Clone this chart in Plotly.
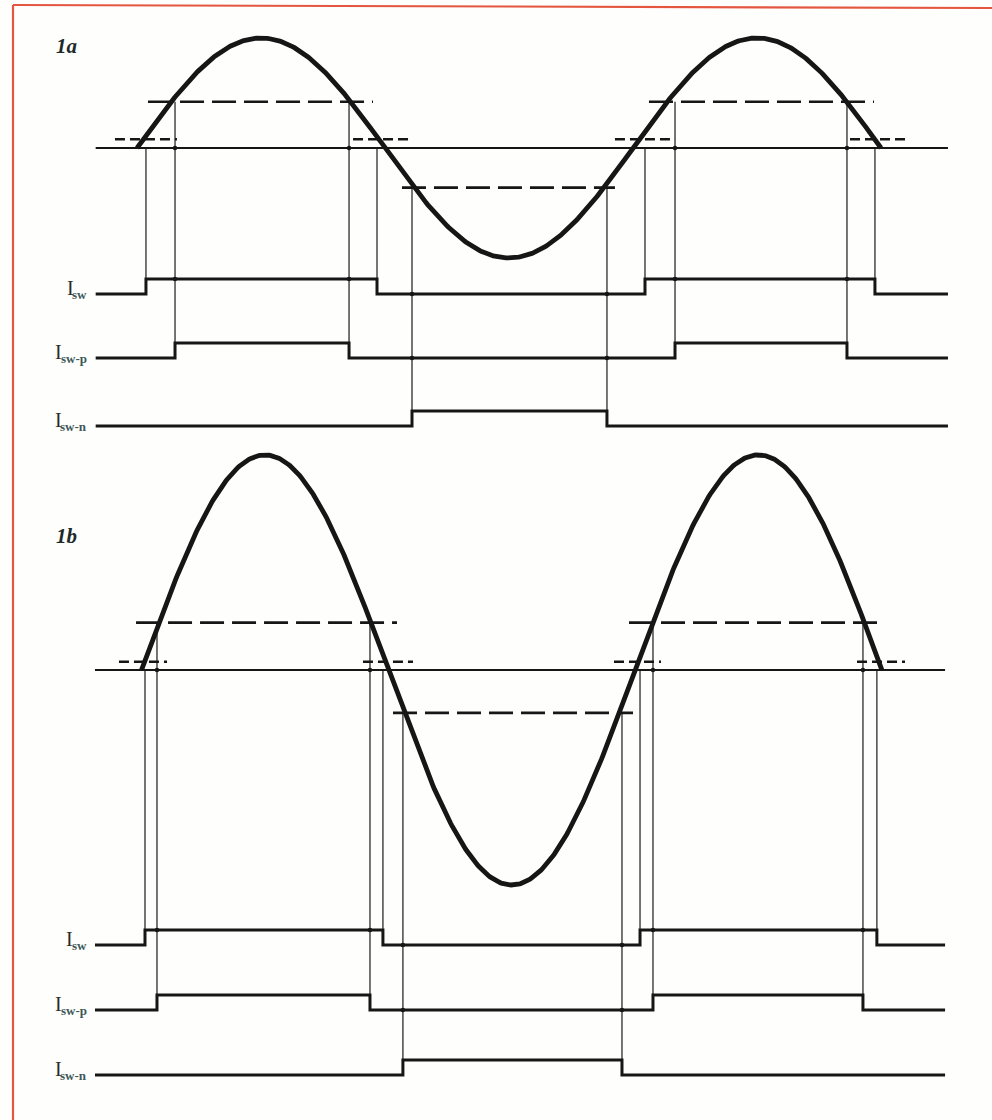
import numpy as np
import plotly.graph_objects as go

# ---------------------------------------------------------------
# Waveform data.  Time runs in electrical degrees of the 1a sweep,
# signal levels are in units of the 1a peak amplitude.
# ---------------------------------------------------------------
panel_names = ["1a", "1b"]
sine_amp = [1.0, 1.955]
sine_lag = [0.0, 3.3]          # degrees
sine_period = [360.0, 358.2]   # degrees
sine_cycles = [1.5, 1.5]

thr_small = [0.08, 0.075]      # switch threshold just above zero
thr_high = [0.42, 0.43]        # positive-pulse threshold
thr_neg = [-0.36, -0.39]       # negative-pulse threshold

# comparator switching instants, alternately on / off (degrees)
isw_edges = [[6.5, 174.2, 368.7, 535.6], [5.8, 178.5, 365.1, 537.0]]
iswp_edges = [[27.6, 153.9, 390.5, 515.3], [14.5, 169.1, 374.5, 526.9]]
iswn_edges = [[199.6, 341.1], [193.0, 352.0]]

# extent of the threshold marks drawn across each crossing (degrees)
small_marks = [[(-16.0, 29.0), (156.8, 199.6), (346.9, 390.5), (517.5, 557.4)],
               [(-13.1, 21.8), (164.0, 200.3), (346.2, 380.3), (522.6, 557.4)]]
high_marks = [[(8.0, 171.3), (371.6, 534.9)],
              [(-0.7, 188.7), (357.1, 542.9)]]
neg_marks = [[(192.3, 346.9)], [(185.8, 360.0)]]

row_symbol = "I"
row_subscripts = ["sw", "sw-p", "sw-n"]

# ---------------------------------------------------------------
# Layout constants
# ---------------------------------------------------------------
W, H = 992, 1120
PX_PER_DEG = 496.0 / 360.0
X_ZERO_PX = 137.0
PX_PER_UNIT = 110.0
Y_ZERO_PX = 148.0

panel_base = [0.0, -4.745]
panel_title_y = [0.927, 1.218]
row_offset = [[-1.327, -1.909, -2.527], [-2.50, -3.091, -3.682]]
STEP = 0.136
line_start = [-30.0, -30.5]
line_end = [588.6, 586.5]

INK = "#161616"
THIN = "#3a3a3a"
SUB_COLOR = "#3d5858"
LABEL_FONT = "Liberation Serif"
SUB_SIZE = 13
# advance widths (em) of the bold serif glyphs used in the subscripts
SUB_ADVANCE = {"s": 0.389, "w": 0.722, "-": 0.333, "p": 0.556, "n": 0.556}

x_range = [-X_ZERO_PX / PX_PER_DEG, (W - X_ZERO_PX) / PX_PER_DEG]
y_range = [(Y_ZERO_PX - H) / PX_PER_UNIT, Y_ZERO_PX / PX_PER_UNIT]


def state_at(t, edges):
    return sum(1 for e in edges if e <= t) % 2


def step_trace(edges, x0, x1, low):
    xs, ys = [x0], [low]
    level = low
    for e in edges:
        xs.append(e)
        ys.append(level)
        level = low + STEP if level == low else low
        xs.append(e)
        ys.append(level)
    xs.append(x1)
    ys.append(level)
    return xs, ys


def segments(pairs, y):
    xs, ys = [], []
    for a, b in pairs:
        xs += [a, b, None]
        ys += [y, y, None]
    return xs, ys


fig = go.Figure()

vert_x, vert_y = [], []
dot_x, dot_y = [], []
base_x, base_y = [], []
dig_x, dig_y = [], []
sine_x, sine_y = [], []
small_x, small_y = [], []
long_x, long_y = [], []
annotations = []

for p in range(2):
    base = panel_base[p]
    rows = [base + r for r in row_offset[p]]
    edges_all = [isw_edges[p], iswp_edges[p], iswn_edges[p]]

    # zero line
    base_x += [line_start[p], line_end[p], None]
    base_y += [base, base, None]

    # the input sine
    t = np.linspace(sine_lag[p], sine_lag[p] + sine_cycles[p] * sine_period[p], 600)
    s = base + sine_amp[p] * np.sin(2 * np.pi * (t - sine_lag[p]) / sine_period[p])
    sine_x += list(t) + [None]
    sine_y += list(s) + [None]

    # threshold marks
    xs, ys = segments(small_marks[p], base + thr_small[p])
    small_x += xs
    small_y += ys
    xs, ys = segments(high_marks[p], base + thr_high[p])
    long_x += xs
    long_y += ys
    xs, ys = segments(neg_marks[p], base + thr_neg[p])
    long_x += xs
    long_y += ys

    # comparator outputs and their labels
    for r in range(3):
        xs, ys = step_trace(edges_all[r], line_start[p], line_end[p], rows[r])
        dig_x += xs + [None]
        dig_y += ys + [None]
        sub = row_subscripts[r]
        sub_w = SUB_SIZE * sum(SUB_ADVANCE[c] for c in sub)
        annotations.append(dict(
            x=line_start[p] - 4.5, y=rows[r], xref="x", yref="y",
            text="<b>%s</b>" % sub, showarrow=False,
            xanchor="right", yanchor="middle", yshift=-1,
            font=dict(family=LABEL_FONT, size=SUB_SIZE, color=SUB_COLOR),
        ))
        annotations.append(dict(
            x=line_start[p] - 4.5, y=rows[r], xref="x", yref="y",
            text=row_symbol, showarrow=False,
            xanchor="right", yanchor="middle", yshift=6, xshift=-sub_w + 1,
            font=dict(family=LABEL_FONT, size=20, color="#2a2a2a"),
        ))

    # projection lines from each threshold crossing down to its output edge
    tops = [base, base + thr_high[p], base + thr_neg[p]]
    for r in range(3):
        for e in edges_all[r]:
            top = tops[r]
            bottom = rows[r] + STEP
            vert_x += [e, e, None]
            vert_y += [top, bottom, None]
            # junction dots where the projection crosses other lines
            crossings = [base] + [rows[k] + STEP * state_at(e, edges_all[k]) for k in range(r)]
            for c in crossings:
                if bottom < c < top - 1e-6:
                    dot_x.append(e)
                    dot_y.append(c)

    annotations.append(dict(
        x=-51, y=base + panel_title_y[p], xref="x", yref="y",
        text="<i><b>%s</b></i>" % panel_names[p], showarrow=False,
        xanchor="center", yanchor="middle",
        font=dict(family=LABEL_FONT, size=21, color="#1c2a2a"),
    ))

fig.add_trace(go.Scatter(x=vert_x, y=vert_y, mode="lines",
                         line=dict(color=THIN, width=1.4), hoverinfo="skip"))
fig.add_trace(go.Scatter(x=base_x, y=base_y, mode="lines",
                         line=dict(color=INK, width=2), hoverinfo="skip"))
fig.add_trace(go.Scatter(x=small_x, y=small_y, mode="lines",
                         line=dict(color=INK, width=2.6, dash="10px,5px"), hoverinfo="skip"))
fig.add_trace(go.Scatter(x=long_x, y=long_y, mode="lines",
                         line=dict(color=INK, width=2.6, dash="24px,8px"), hoverinfo="skip"))
fig.add_trace(go.Scatter(x=dig_x, y=dig_y, mode="lines",
                         line=dict(color=INK, width=3, shape="linear"), hoverinfo="skip"))
fig.add_trace(go.Scatter(x=sine_x, y=sine_y, mode="lines",
                         line=dict(color=INK, width=4.8), hoverinfo="skip"))
fig.add_trace(go.Scatter(x=dot_x, y=dot_y, mode="markers",
                         marker=dict(color=INK, size=4.5), hoverinfo="skip"))

# red frame along the top and left edges of the page
frame = "#e4563f"
shapes = [
    dict(type="line", xref="paper", yref="paper", x0=13 / W, x1=13 / W, y0=0, y1=1 - 5 / H,
         line=dict(color=frame, width=2.2)),
    dict(type="line", xref="paper", yref="paper", x0=13 / W, x1=1, y0=1 - 5 / H, y1=1 - 8 / H,
         line=dict(color=frame, width=2.2)),
]

fig.update_layout(
    width=W, height=H, autosize=False,
    margin=dict(l=0, r=0, t=0, b=0),
    paper_bgcolor="#fefefc", plot_bgcolor="#fefefc",
    showlegend=False,
    xaxis=dict(range=x_range, visible=False, fixedrange=True),
    yaxis=dict(range=y_range, visible=False, fixedrange=True),
    annotations=annotations, shapes=shapes,
)

fig.write_html("out.html")
